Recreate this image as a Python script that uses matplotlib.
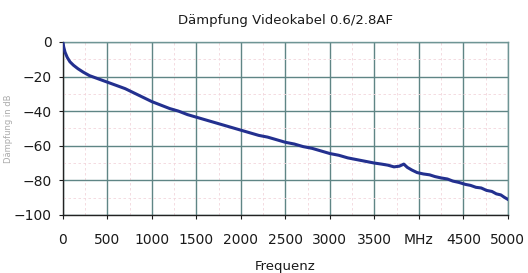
import matplotlib
matplotlib.use("Agg")
import matplotlib.pyplot as plt
from matplotlib.ticker import MultipleLocator

plt.rcParams['font.family'] = ['DejaVu Sans Condensed', 'DejaVu Sans']

title = "Dämpfung Videokabel 0.6/2.8AF"
xlabel = "Frequenz"
ylabel = "Dämpfung in dB"

freq_mhz = [0, 10, 25, 50, 80, 120, 170, 230, 300, 380, 460, 540, 620, 700, 800,
            900, 1000, 1100, 1200, 1300, 1400, 1500, 1600, 1700, 1800, 1900, 2000,
            2100, 2200, 2300, 2400, 2500, 2600, 2700, 2800, 2900, 3000, 3100, 3200,
            3300, 3400, 3500, 3580, 3650, 3720, 3780, 3830, 3870, 3920, 3980, 4050,
            4120, 4180, 4250, 4320, 4380, 4450, 4520, 4580, 4640, 4700, 4760, 4820,
            4870, 4920, 4960, 5000]
atten_db = [0, -3, -6, -9, -11.5, -13.5, -15.5, -17.5, -19.5, -21, -22.5, -24, -25.5,
            -27, -29.5, -32, -34.5, -36.5, -38.5, -40, -42, -43.5, -45, -46.5, -48,
            -49.5, -51, -52.5, -54, -55, -56.5, -58, -59, -60.5, -61.5, -63, -64.5,
            -65.5, -67, -68, -69, -70, -70.6, -71.2, -72.2, -71.8, -70.6, -72.5, -74,
            -75.5, -76.3, -76.8, -77.8, -78.6, -79.2, -80.4, -81.2, -82.3, -82.9, -84,
            -84.4, -85.8, -86.4, -87.8, -88.4, -89.8, -91]

xticks = [0, 500, 1000, 1500, 2000, 2500, 3000, 3500, 4000, 4500, 5000]
xticklabels = ["0", "500", "1000", "1500", "2000", "2500", "3000", "3500", "MHz", "4500", "5000"]
yticks = [0, -20, -40, -60, -80, -100]

fig = plt.figure(figsize=(5.28, 2.73), dpi=100)
ax = fig.add_axes([0.119, 0.2125, 0.843, 0.634])

ax.plot(freq_mhz, atten_db, color="#23308f", lw=2.2, zorder=3)

ax.set_xlim(0, 5000)
ax.set_ylim(-100, 0)
ax.set_xticks(xticks)
ax.set_xticklabels(xticklabels)
ax.set_yticks(yticks)
ax.yaxis.set_minor_locator(MultipleLocator(10))
ax.xaxis.set_minor_locator(MultipleLocator(250))

ax.grid(True, which="major", color="#5f8585", lw=1.0)
ax.grid(True, which="minor", color="#f3d6dc", lw=0.6, ls=(0, (3, 3)))
ax.tick_params(which="minor", length=0)
ax.tick_params(which="major", length=3, width=0.8, labelsize=10, colors="#1a1a1a")
ax.tick_params(axis="x", pad=10)
ax.tick_params(axis="y", pad=5)

for s in ["left", "bottom"]:
    ax.spines[s].set_color("#222222")
    ax.spines[s].set_linewidth(1.0)
for s in ["top", "right"]:
    ax.spines[s].set_color("#6f9595")
    ax.spines[s].set_linewidth(1.0)

ax.set_title(title, fontsize=9.5, color="#1a1a1a", pad=13)
ax.set_xlabel(xlabel, fontsize=9.5, color="#1a1a1a", labelpad=9)
fig.text(0.016, 0.53, ylabel, rotation=90, fontsize=6, color="#aaaaaa",
         ha="center", va="center")

fig.savefig("out.png", dpi=100)
